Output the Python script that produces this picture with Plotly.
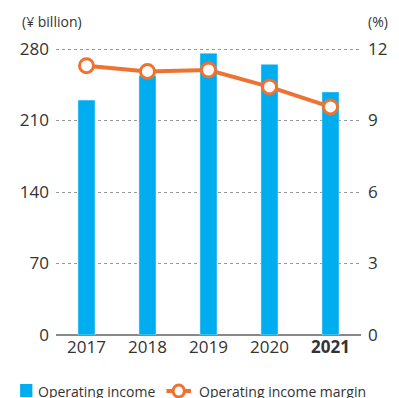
import plotly.graph_objects as go

years = ["2017", "2018", "2019", "2020", "2021"]
year_labels = ["2017", "2018", "2019", "2020", "<b>2021</b>"]
operating_income = [230, 254, 276, 265, 238]
operating_margin = [11.3, 11.06, 11.12, 10.41, 9.57]
left_ticks = [0, 70, 140, 210, 280]
right_ticks = [0, 3, 6, 9, 12]

FONT = "Open Sans"
TXT = "#333333"
BLUE = "#00AEEF"
ORANGE = "#EE7232"

# page has an 8px body margin; figure sized to fill the visible window
OFF = 8
W, H = 391, 390
L, R, T, B = 42, 26, 39, 63
PW, PH = W - L - R, H - T - B


def px_x(x):
    return (x - OFF - L) / PW


def px_y(y):
    return (H - B - (y - OFF)) / PH


fig = go.Figure()
fig.add_trace(go.Bar(
    x=years, y=operating_income, name="Operating income",
    marker_color=BLUE, width=0.28, yaxis="y", showlegend=False,
))
fig.add_trace(go.Scatter(
    x=years, y=operating_margin, name="Operating income margin",
    mode="lines+markers", yaxis="y2", showlegend=False,
    line=dict(color=ORANGE, width=4),
    marker=dict(size=14, color="white", line=dict(color=ORANGE, width=3)),
))

top = 282
shapes = [
    dict(type="rect", xref="paper", yref="paper",
         x0=px_x(12), x1=px_x(25), y0=px_y(397), y1=px_y(384),
         fillcolor=BLUE, line=dict(width=0)),
    dict(type="line", xref="paper", yref="paper",
         x0=px_x(167), x1=px_x(193), y0=px_y(391), y1=px_y(391),
         line=dict(color=ORANGE, width=4)),
    dict(type="circle", xref="paper", yref="paper",
         x0=px_x(174), x1=px_x(186), y0=px_y(397), y1=px_y(385),
         fillcolor="white", line=dict(color=ORANGE, width=3)),
]

fig.update_layout(
    width=W, height=H,
    margin=dict(l=L, r=R, t=T, b=B),
    paper_bgcolor="white", plot_bgcolor="white",
    font=dict(family=FONT, color=TXT, size=17),
    showlegend=False,
    xaxis=dict(tickmode="array", tickvals=years, ticktext=year_labels,
               showgrid=False, showline=False, ticks="", tickfont=dict(size=17, color=TXT)),
    yaxis=dict(range=[0, top], tickvals=left_ticks, showgrid=True,
               gridcolor="#999999", griddash="dot", gridwidth=1,
               zeroline=True, zerolinecolor="#888888", zerolinewidth=1.5,
               ticks="", ticklabelstandoff=6, tickfont=dict(size=17, color=TXT)),
    yaxis2=dict(range=[0, 12 * top / 280], tickvals=right_ticks, overlaying="y", side="right",
                showgrid=False, zeroline=False, ticks="", ticklabelstandoff=6,
                tickfont=dict(size=17, color=TXT)),
    shapes=shapes,
    annotations=[
        dict(text="(¥ billion)", x=px_x(12), y=px_y(22), xref="paper", yref="paper",
             xanchor="left", yanchor="middle",
             showarrow=False, font=dict(size=14, color=TXT)),
        dict(text="(%)", x=px_x(378), y=px_y(22), xref="paper", yref="paper",
             xanchor="left", yanchor="middle",
             showarrow=False, font=dict(size=14, color=TXT)),
        dict(text="Operating income", x=px_x(29), y=px_y(391), xref="paper", yref="paper",
             xanchor="left", yanchor="middle", showarrow=False,
             font=dict(size=14, color=TXT)),
        dict(text="Operating income margin", x=px_x(199), y=px_y(391), xref="paper", yref="paper",
             xanchor="left", yanchor="middle", showarrow=False,
             font=dict(size=14, color=TXT)),
    ],
)

fig.write_html("out.html")
